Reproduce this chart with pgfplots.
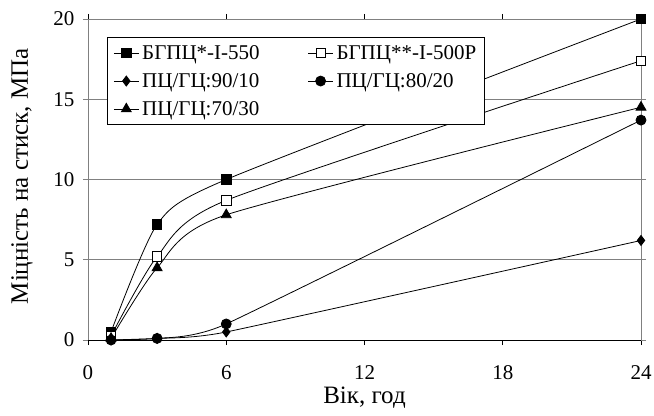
\documentclass[border=0pt]{standalone}
\usepackage{pgfplots}
\pgfplotsset{compat=1.18}
\usepackage{fontspec}
\setmainfont{Liberation Serif}
\begin{document}
\begin{tikzpicture}
\begin{axis}[
  scale only axis,
  width=553bp, height=321bp,
  xmin=0, xmax=24, ymin=0, ymax=20,
  xtick={0,6,12,18,24}, ytick={0,5,10,15,20},
  tick align=outside,
  major tick length=5bp,
  tick style={gray, line width=0.8bp},
  xtick style={black},
  ymajorgrids,
  grid style={gray, line width=0.8bp},
  axis line style={gray, line width=0.8bp},
  every tick label/.append style={font=\fontsize{21bp}{24bp}\selectfont},
  xticklabel style={yshift=-17bp},
  yticklabel style={xshift=-5bp},
  /pgf/number format/assume math mode=true,
  xlabel={Вік, год},
  ylabel={Міцність на стиск, МПа},
  label style={font=\fontsize{25bp}{28bp}\selectfont},
  xlabel style={at={(axis description cs:0.5,-0.1807)}, anchor=center},
  ylabel style={at={(axis description cs:-0.1193,0.51)}, anchor=center, rotate=0},
  legend columns=2,
  legend style={at={(axis description cs:0.0344,0.944)}, anchor=north west,
    draw=black, line width=0.8bp, font=\fontsize{21bp}{24bp}\selectfont,
    inner xsep=6bp, inner ysep=6bp,
    /tikz/every odd column/.append style={column sep=1bp},
    /tikz/every even column/.append style={column sep=46bp},
    row sep=8.5bp},
  legend cell align=left,
  legend image code/.code={\draw[mark repeat=2,mark phase=2,#1] plot coordinates {(0bp,0bp) (12.5bp,0bp) (25bp,0bp)};},
  every axis plot/.append style={black, line width=0.8bp, smooth, tension=0.38},
]
\addplot[mark=square*, mark size=4.7bp, mark options={fill=black, solid}] coordinates {(1,0.5) (3,7.2) (6,10) (24,20)};
\addlegendentry{БГПЦ*-I-550}
\addplot[mark=square*, mark size=4.7bp, mark options={fill=white, solid}] coordinates {(1,0.25) (3,5.2) (6,8.7) (24,17.4)};
\addlegendentry{БГПЦ**-I-500Р}
\addplot[mark=diamond*, mark size=5bp, mark options={fill=black, solid}, tension=0.25] coordinates {(1,0) (3,0.1) (6,0.5) (24,6.2)};
\addlegendentry{ПЦ/ГЦ:90/10}
\addplot[mark=*, mark size=5bp, mark options={fill=black, solid}, tension=0.25] coordinates {(1,0) (3,0.1) (6,1.0) (24,13.7)};
\addlegendentry{ПЦ/ГЦ:80/20}
\addplot[mark=triangle*, mark size=5.7bp, mark options={fill=black, solid}] coordinates {(1,0.1) (3,4.5) (6,7.8) (24,14.5)};
\addlegendentry{ПЦ/ГЦ:70/30}
\draw[black, line width=0.8bp] (axis cs:0,0) -- (axis cs:24,0);
\end{axis}
\pgfresetboundingbox
\path[use as bounding box] ([xshift=-88bp,yshift=-76bp]current axis.south west) rectangle ([xshift=13bp,yshift=19bp]current axis.north east);
\end{tikzpicture}
\end{document}
